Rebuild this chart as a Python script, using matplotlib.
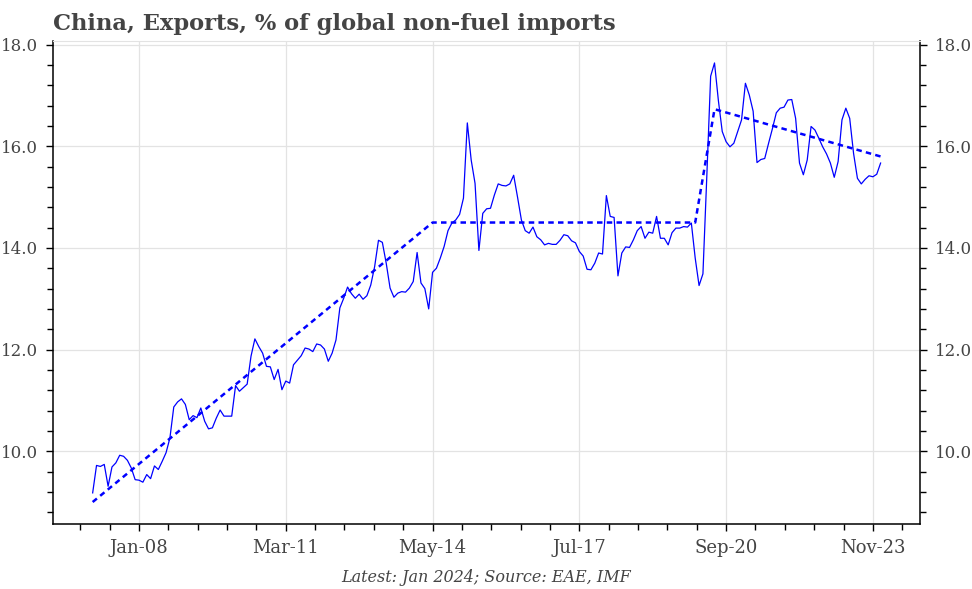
import matplotlib.pyplot as plt
from matplotlib.ticker import FixedLocator, AutoMinorLocator, FormatStrFormatter
import numpy as np

plt.rcParams['font.family'] = ['DejaVu Serif']

# monthly share, Jan 2007 .. Jan 2024
share = [
    9.18, 9.72, 9.70, 9.74, 9.31, 9.69, 9.77, 9.92, 9.90, 9.82, 9.67, 9.44,            # 2007
    9.43, 9.39, 9.54, 9.46, 9.71, 9.64, 9.80, 9.97, 10.26, 10.87, 10.97, 11.03,        # 2008
    10.92, 10.62, 10.70, 10.66, 10.85, 10.59, 10.44, 10.46, 10.65, 10.81, 10.69, 10.69,  # 2009
    10.69, 11.29, 11.18, 11.25, 11.32, 11.87, 12.21, 12.06, 11.93, 11.67, 11.66, 11.41,  # 2010
    11.61, 11.21, 11.38, 11.34, 11.70, 11.79, 11.88, 12.03, 12.01, 11.96, 12.11, 12.09,  # 2011
    12.01, 11.77, 11.93, 12.19, 12.82, 13.01, 13.23, 13.10, 13.01, 13.09, 12.99, 13.06,  # 2012
    13.27, 13.63, 14.15, 14.11, 13.70, 13.21, 13.03, 13.11, 13.14, 13.13, 13.21, 13.34,  # 2013
    13.91, 13.31, 13.20, 12.80, 13.52, 13.60, 13.80, 14.03, 14.34, 14.49, 14.55, 14.66,  # 2014
    14.98, 16.46, 15.73, 15.27, 13.95, 14.68, 14.77, 14.78, 15.04, 15.26, 15.23, 15.22,  # 2015
    15.26, 15.43, 15.00, 14.55, 14.34, 14.29, 14.41, 14.22, 14.16, 14.06, 14.09, 14.07,  # 2016
    14.07, 14.15, 14.26, 14.24, 14.14, 14.10, 13.93, 13.84, 13.58, 13.57, 13.70, 13.90,  # 2017
    13.88, 15.03, 14.62, 14.60, 13.45, 13.90, 14.02, 14.01, 14.16, 14.34, 14.42, 14.19,  # 2018
    14.31, 14.29, 14.62, 14.19, 14.19, 14.06, 14.30, 14.39, 14.39, 14.42, 14.41, 14.49,  # 2019
    13.80, 13.26, 13.49, 15.40, 17.38, 17.64, 16.90, 16.29, 16.09, 15.99, 16.06, 16.29,  # 2020
    16.52, 17.24, 17.01, 16.69, 15.68, 15.74, 15.76, 16.06, 16.35, 16.66, 16.75, 16.77,  # 2021
    16.91, 16.92, 16.55, 15.67, 15.44, 15.73, 16.39, 16.32, 16.16, 15.99, 15.85, 15.67,  # 2022
    15.39, 15.70, 16.52, 16.75, 16.55, 15.86, 15.37, 15.26, 15.35, 15.42, 15.40, 15.45,  # 2023
    15.67,                                                                              # 2024
]

# trend breakpoints (month index, value)
trend_idx = [0, 88, 156, 161, 204]
trend_val = [9.0, 14.5, 14.5, 16.73, 15.8]

tick_idx = [12, 50, 88, 126, 164, 202]
tick_labels = ['Jan-08', 'Mar-11', 'May-14', 'Jul-17', 'Sep-20', 'Nov-23']

txt = '#444444'
grid = '#e3e3e3'

fig = plt.figure(figsize=(9.72, 5.89), dpi=100)
ax = fig.add_axes([0.0548, 0.1104, 0.8917, 0.8200])

x = np.arange(len(share))
ax.plot(x, share, color='#0000ff', linewidth=0.9)
ax.plot(trend_idx, trend_val, color='#0000ff', linewidth=1.8, dashes=(2.2, 1.7))

ax.xaxis.set_major_locator(FixedLocator(tick_idx))
ax.set_xticklabels(tick_labels)
ax.xaxis.set_minor_locator(AutoMinorLocator(5))
ax.set_yticks([10, 12, 14, 16, 18])
ax.yaxis.set_major_formatter(FormatStrFormatter('%.1f'))
ax.yaxis.set_minor_locator(AutoMinorLocator(5))

ax.grid(True, which='major', color=grid, linewidth=0.9)
ax.set_axisbelow(True)

ax.tick_params(axis='both', which='major', length=5, width=1, labelsize=12, labelcolor=txt, pad=6)
ax.tick_params(axis='x', which='major', labelsize=13)
ax.tick_params(axis='both', which='minor', length=4, width=1)
ax.tick_params(axis='y', which='both', right=True, labelright=True)

ax.spines['top'].set_color(grid)
for s in ['left', 'right', 'bottom']:
    ax.spines[s].set_linewidth(1.1)

fig.text(0.0548, 0.960, 'China, Exports, % of global non-fuel imports', fontsize=16.3,
         fontweight='bold', color=txt, ha='left', va='center')
fig.text(0.5, 0.020, 'Latest: Jan 2024; Source: EAE, IMF', fontsize=11.5, style='italic',
         color=txt, ha='center', va='center')

fig.savefig('out.png', dpi=100)
